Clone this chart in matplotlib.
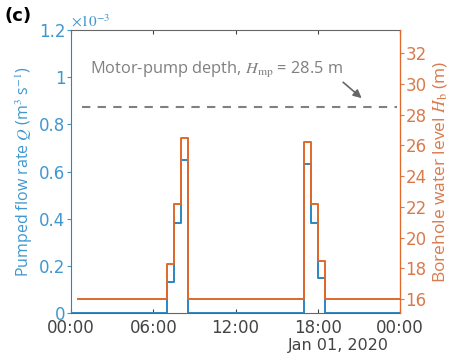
import numpy as np
import matplotlib
matplotlib.use("Agg")
import matplotlib.pyplot as plt

plt.rcParams["mathtext.fontset"] = "stix"

# hours since 00:00, Jan 01 2020
t_q = [0, 7.0, 7.5, 8.0, 8.5, 17.0, 17.5, 18.0, 18.5, 24]
q = [0, 0.13, 0.38, 0.65, 0, 0.63, 0.38, 0.15, 0, 0]          # x1e-3 m3/s
t_h = [0.5, 7.0, 7.5, 8.0, 8.5, 17.0, 17.5, 18.0, 18.5, 24]
h = [16, 18.3, 22.2, 26.5, 16, 26.2, 22.2, 18.5, 16, 16]       # m
h_mp = 28.5
xticks = [0, 6, 12, 18, 24]
xlabels = ["00:00", "06:00", "12:00", "18:00", "00:00"]

blue = "#2a86c2"
blue_txt = "#3f97cf"
orange = "#e0692b"
orange_txt = "#d97a4c"
grey = "#808080"

fig = plt.figure(figsize=(4.54, 3.55), dpi=100)
ax = fig.add_axes([0.1564, 0.1183, 0.7247, 0.7972])
ax2 = ax.twinx()

ax.step(t_q, q, where="post", color=blue, lw=1.4, zorder=2)
ax2.step(t_h, h, where="post", color=orange, lw=1.4, zorder=3)
ax2.plot([0.8, 23.8], [h_mp, h_mp], ls=(0, (4, 3.5)), color=grey, lw=1.5)

ax.set_xlim(0, 24)
ax.set_ylim(0, 1.2)
ax2.set_ylim(15.09, 33.5)
ax.set_xticks(xticks)
ax.set_xticklabels(xlabels)
ax.set_yticks([0, 0.2, 0.4, 0.6, 0.8, 1.0, 1.2])
ax.set_yticklabels(["0", "0.2", "0.4", "0.6", "0.8", "1", "1.2"])
ax2.set_yticks(range(16, 33, 2))

ax.tick_params(axis="x", direction="in", top=True, length=3, labelsize=12,
               colors="#444444", pad=4)
ax.tick_params(axis="y", direction="out", length=3, labelsize=12,
               colors=blue_txt, pad=1)
ax2.tick_params(axis="y", direction="out", length=3, labelsize=12,
                colors=orange_txt, pad=1)

ax.spines["left"].set_color(blue)
ax.spines["top"].set_color("#666666")
ax.spines["bottom"].set_color("#666666")
ax2.spines["left"].set_visible(False)
ax2.spines["top"].set_visible(False)
ax2.spines["bottom"].set_visible(False)
ax2.spines["right"].set_color(orange)

ax.set_ylabel("Pumped flow rate $Q$ (m$^3$ s$^{-1}$)", color=blue_txt,
              fontsize=11.5, family="Open Sans", labelpad=3)
ax2.set_ylabel("Borehole water level $H_\\mathrm{b}$ (m)", color=orange_txt,
               fontsize=12.5, family="Open Sans", labelpad=3)

ax.text(0.0, 1.0, r"$\times10^{-3}$", transform=ax.transAxes, color=blue_txt,
        fontsize=11, ha="left", va="bottom")
fig.text(0.01, 0.955, "(c)", fontsize=13, fontweight="bold", ha="left", va="center")
ax.text(19.5, -0.157, "Jan 01, 2020", color="#444444", fontsize=11.5,
        ha="center", va="baseline")

ax2.text(1.4, 30.9, "Motor-pump depth, $H_\\mathrm{mp}$ = 28.5 m", color=grey,
         fontsize=11.8, family="Open Sans", va="center", ha="left")
ax2.annotate("", xy=(21.2, 29.07), xytext=(19.85, 30.1),
             arrowprops=dict(arrowstyle="-|>", color="#666666", lw=1.2,
                             shrinkA=0, shrinkB=0, mutation_scale=12))

fig.savefig("out.png", dpi=100)
